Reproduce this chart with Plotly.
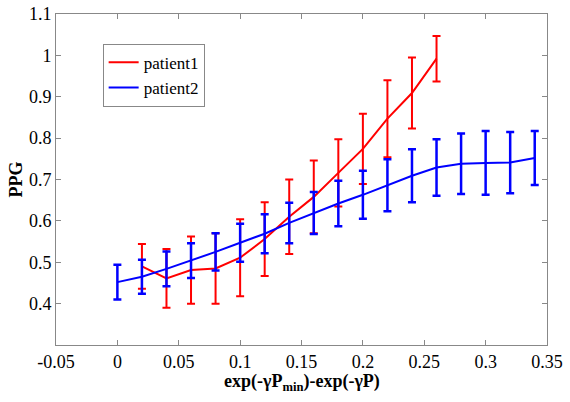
import plotly.graph_objects as go

# Patient 2 (blue)
p2_x = [0.00, 0.02, 0.04, 0.06, 0.08, 0.10, 0.12, 0.14, 0.16, 0.18, 0.20, 0.22, 0.24, 0.26, 0.28, 0.30, 0.32, 0.34]
p2_y = [0.452, 0.465, 0.484, 0.504, 0.525, 0.547, 0.569, 0.595, 0.619, 0.642, 0.663, 0.686, 0.709, 0.729, 0.738, 0.740, 0.741, 0.752]
p2_err = [0.042, 0.041, 0.042, 0.042, 0.045, 0.046, 0.047, 0.049, 0.051, 0.055, 0.058, 0.063, 0.064, 0.068, 0.073, 0.077, 0.074, 0.065]

# Patient 1 (red)
p1_x = [0.02, 0.04, 0.06, 0.08, 0.10, 0.12, 0.14, 0.16, 0.18, 0.20, 0.22, 0.24, 0.26]
p1_y = [0.490, 0.461, 0.481, 0.485, 0.511, 0.556, 0.610, 0.658, 0.716, 0.774, 0.847, 0.909, 0.992]
p1_err = [0.054, 0.071, 0.081, 0.085, 0.093, 0.089, 0.090, 0.088, 0.081, 0.085, 0.093, 0.086, 0.055]

x_ticks = [-0.05, 0, 0.05, 0.1, 0.15, 0.2, 0.25, 0.3, 0.35]
x_ticklabels = ["-0.05", "0", "0.05", "0.1", "0.15", "0.2", "0.25", "0.3", "0.35"]
y_ticks = [0.4, 0.5, 0.6, 0.7, 0.8, 0.9, 1.0, 1.1]
y_ticklabels = ["0.4", "0.5", "0.6", "0.7", "0.8", "0.9", "1", "1.1"]

x_title = "<b>exp(-γP<sub>min</sub>)-exp(-γP)</b>"
y_title = "<b>PPG</b>"

FONT = "Liberation Serif"

fig = go.Figure()
fig.add_trace(go.Scatter(
    x=p1_x, y=p1_y, mode="lines", name="patient1",
    line=dict(color="#ff0000", width=2),
    error_y=dict(type="data", array=p1_err, visible=True, color="#ff0000", thickness=2, width=4),
))
fig.add_trace(go.Scatter(
    x=p2_x, y=p2_y, mode="lines", name="patient2",
    line=dict(color="#0000ff", width=2),
    error_y=dict(type="data", array=p2_err, visible=True, color="#0000ff", thickness=2.5, width=4),
))

axis_common = dict(
    showline=True, linecolor="#888888", linewidth=1, mirror="allticks",
    ticks="inside", ticklen=5, tickcolor="#888888", showgrid=False, zeroline=False,
    tickfont=dict(family=FONT, size=18, color="#000000"), automargin=False,
)

fig.update_layout(
    width=570, height=402,
    margin=dict(l=56, r=23, t=14, b=57, autoexpand=False),
    paper_bgcolor="white", plot_bgcolor="white",
    font=dict(family=FONT, size=18, color="#000000"),
    showlegend=True,
    legend=dict(
        x=0.095, y=0.91, xanchor="left", yanchor="top",
        bordercolor="#888888", borderwidth=1, bgcolor="white",
        font=dict(family=FONT, size=17, color="#000000"),
        tracegroupgap=0, itemwidth=30,
    ),
    xaxis=dict(range=[-0.05, 0.35], tickvals=x_ticks, ticktext=x_ticklabels, **axis_common),
    yaxis=dict(range=[0.3, 1.1], tickvals=y_ticks, ticktext=y_ticklabels, **axis_common),
    annotations=[
        dict(text=x_title, xref="paper", yref="paper", x=0.5, y=0, xanchor="center", yanchor="top",
             yshift=-24, showarrow=False, font=dict(family=FONT, size=18, color="#000000")),
        dict(text=y_title, xref="paper", yref="paper", x=-0.0815, y=0.5, xanchor="center", yanchor="middle",
             textangle=-90, showarrow=False, font=dict(family=FONT, size=18, color="#000000")),
    ],
)

fig.write_html("out.html", config={"displayModeBar": False},
               post_script="document.body.style.margin='0';document.body.style.padding='0';")
